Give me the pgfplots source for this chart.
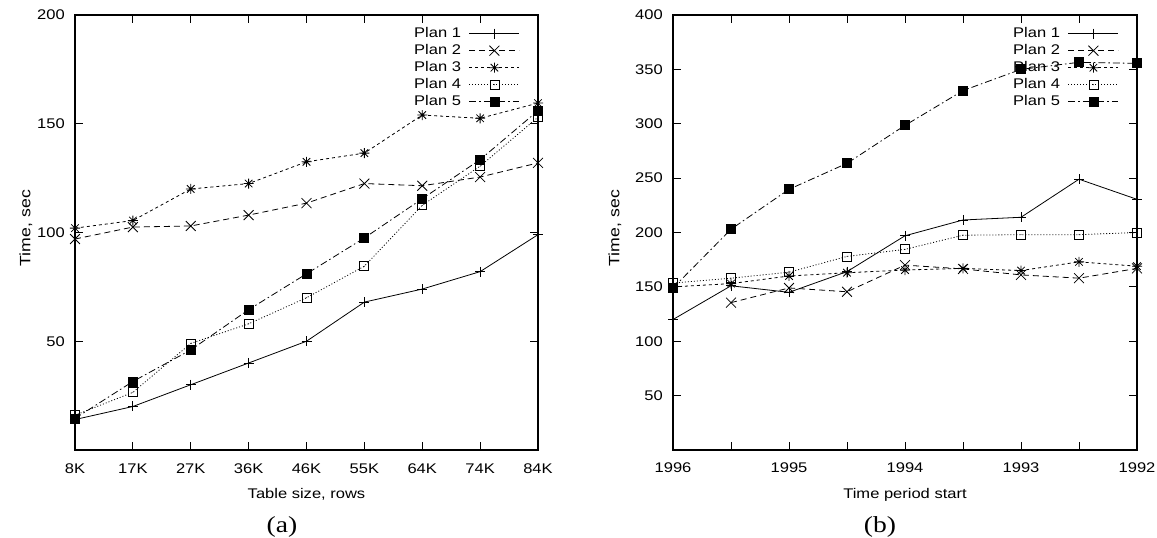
\documentclass[border=0pt]{standalone}
\usepackage{fontspec}
\setmainfont[FakeStretch=1.18]{Liberation Sans}
\newfontfamily\capfont[FakeStretch=1.2]{Liberation Serif}
\usepackage{pgfplots}
\pgfplotsset{compat=1.18}

\pgfdeclareplotmark{gpstar}{%
  \pgfpathmoveto{\pgfqpoint{-\pgfplotmarksize}{0pt}}\pgfpathlineto{\pgfqpoint{\pgfplotmarksize}{0pt}}%
  \pgfpathmoveto{\pgfqpoint{0pt}{-\pgfplotmarksize}}\pgfpathlineto{\pgfqpoint{0pt}{\pgfplotmarksize}}%
  \pgfpathmoveto{\pgfqpoint{-.75\pgfplotmarksize}{-.75\pgfplotmarksize}}\pgfpathlineto{\pgfqpoint{.75\pgfplotmarksize}{.75\pgfplotmarksize}}%
  \pgfpathmoveto{\pgfqpoint{-.75\pgfplotmarksize}{.75\pgfplotmarksize}}\pgfpathlineto{\pgfqpoint{.75\pgfplotmarksize}{-.75\pgfplotmarksize}}%
  \pgfusepathqstroke}
\pgfdeclareplotmark{gpbox}{%
  \pgfpathrectangle{\pgfqpoint{-\pgfplotmarksize}{-\pgfplotmarksize}}{\pgfqpoint{2\pgfplotmarksize}{2\pgfplotmarksize}}%
  \pgfusepathqstroke
  \pgfpathcircle{\pgfpointorigin}{0.5bp}\pgfusepathqfill}

\pgfplotsset{
  gp/.style={
    scale only axis, width=463bp, height=435bp,
    xmin=0, xmax=8, ymin=0,
    xtick={0,...,8},
    axis line style={line width=1.4bp},
    every tick/.style={line width=1bp, black},
    major tick length=8bp,
    tick align=inside,
    clip=false,
    /pgf/number format/assume math mode=true,
    xticklabel style={anchor=base, yshift=-23bp, inner sep=0pt},
    yticklabel style={anchor=east, xshift=-10bp, inner sep=0pt},
    xlabel style={at={(axis description cs:0.5,0)}, anchor=base, yshift=-48bp, inner sep=0pt},
    ylabel style={anchor=center, inner sep=0pt, font=\fontsize{15bp}{18bp}\selectfont},
    legend plot pos=right,
    legend cell align=left,
    legend image code/.code={\draw[mark repeat=2,mark phase=2,#1] plot coordinates {(0bp,0bp)(25bp,0bp)(50bp,0bp)};},
    legend style={draw=none, fill=none, at={(rel axis cs:1,1)}, anchor=north east,
      xshift=-18bp, yshift=-10bp, row sep=0pt, inner sep=0pt, column sep=6bp,
      nodes={text height=10bp, text depth=3bp, inner sep=2bp},
      font=\fontsize{14bp}{17bp}\selectfont},
  },
  p1/.style={black, line width=0.8bp, solid, mark=+, mark size=5bp, mark options={solid}},
  p2/.style={black, line width=0.8bp, dash pattern=on 6bp off 4bp, mark=x, mark size=7bp, mark options={solid}},
  p3/.style={black, line width=0.8bp, dash pattern=on 3bp off 3bp, mark=gpstar, mark size=5bp, mark options={solid}},
  p4/.style={black, line width=0.8bp, dash pattern=on 1bp off 2bp, mark=gpbox, mark size=4.5bp, mark options={solid}},
  p5/.style={black, line width=0.8bp, dash pattern=on 7bp off 3bp on 1.5bp off 3bp, mark=square*, mark size=4.5bp, mark options={solid}},
}

\begin{document}
\fontsize{14bp}{17bp}\selectfont
\begin{tikzpicture}
\useasboundingbox (0,0) rectangle (1157bp,538bp);

\begin{axis}[gp,
  at={(75bp,88bp)}, anchor=south west,
  ymax=200, ytick={50,100,150,200},
  xticklabels={8K,17K,27K,36K,46K,55K,64K,74K,84K},
  xlabel={Table size, rows},
  ylabel={Time, sec},
  ylabel style={at={(axis description cs:-0.106,0.51)}},
]
\addplot[p1] coordinates {(0,14) (1,20) (2,30) (3,40) (4,50) (5,68) (6,74) (7,82) (8,99)};
\addlegendentry{Plan 1}
\addplot[p2] coordinates {(0,97) (1,102.5) (2,103) (3,108) (4,113.5) (5,122.5) (6,121.5) (7,125.5) (8,132)};
\addlegendentry{Plan 2}
\addplot[p3] coordinates {(0,102) (1,105.5) (2,120) (3,122.5) (4,132.5) (5,136.5) (6,154) (7,152.5) (8,159.5)};
\addlegendentry{Plan 3}
\addplot[p4] coordinates {(0,16) (1,26.5) (2,49) (3,58) (4,70) (5,84.5) (6,112.5) (7,130.5) (8,153)};
\addlegendentry{Plan 4}
\addplot[p5] coordinates {(0,14.5) (1,31.5) (2,46) (3,64.5) (4,81) (5,97.5) (6,115.5) (7,133.5) (8,156)};
\addlegendentry{Plan 5}
\end{axis}

\begin{axis}[gp,
  at={(673bp,88bp)}, anchor=south west, width=464bp,
  ymax=400, ytick={50,100,...,400},
  xticklabels={1996,,1995,,1994,,1993,,1992},
  xlabel={Time period start},
  ylabel={Time, sec},
  ylabel style={at={(axis description cs:-0.125,0.51)}},
]
\addplot[p1] coordinates {(0,120) (1,151) (2,145) (3,164) (4,197) (5,211.5) (6,214) (7,249) (8,230.5)};
\addlegendentry{Plan 1}
\addplot[p2] coordinates {(1,135.5) (2,149) (3,145.5) (4,170) (5,166.5) (6,161) (7,158) (8,167)};
\addlegendentry{Plan 2}
\addplot[p3] coordinates {(0,150) (1,153) (2,160) (3,163) (4,165.5) (5,167) (6,165) (7,173) (8,169)};
\addlegendentry{Plan 3}
\addplot[p4] coordinates {(0,153.5) (1,158) (2,163.5) (3,178) (4,184.5) (5,197.5) (6,198) (7,198) (8,200)};
\addlegendentry{Plan 4}
\addplot[p5] coordinates {(0,149) (1,203) (2,239.7) (3,263.6) (4,298.5) (5,330.5) (6,350) (7,356.5) (8,355.5)};
\addlegendentry{Plan 5}
\end{axis}

\node[anchor=center, inner sep=0pt, font=\capfont\fontsize{23bp}{27bp}\selectfont] at (282bp,11bp) {(a)};
\node[anchor=center, inner sep=0pt, font=\capfont\fontsize{23bp}{27bp}\selectfont] at (880bp,11bp) {(b)};
\end{tikzpicture}
\end{document}
